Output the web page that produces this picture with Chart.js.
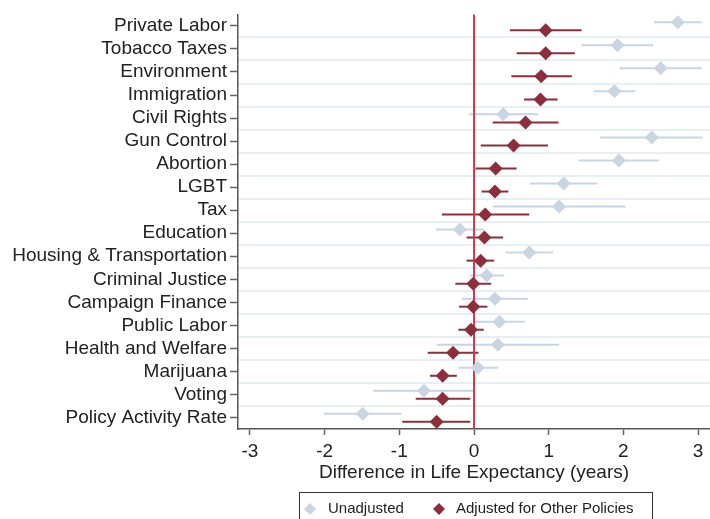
<!DOCTYPE html>
<html lang="en">
<head>
  <meta charset="UTF-8">
  <title>Difference in Life Expectancy by Policy Domain</title>
  <script src="https://cdn.jsdelivr.net/npm/chart.js"></script>
  <style>
    body { margin: 0; background: #fff; }
  </style>
</head>
<body>
<canvas id="grafico" width="710" height="519"></canvas>

<script>
  // Datos
  const categorias = ["Private Labor", "Tobacco Taxes", "Environment", "Immigration", "Civil Rights",
    "Gun Control", "Abortion", "LGBT", "Tax", "Education", "Housing & Transportation",
    "Criminal Justice", "Campaign Finance", "Public Labor", "Health and Welfare", "Marijuana",
    "Voting", "Policy Activity Rate"];

  const sinAjuste = [2.73, 1.92, 2.50, 1.88, 0.39, 2.38, 1.94, 1.20, 1.14, -0.19, 0.74, 0.17, 0.28, 0.34, 0.32, 0.05, -0.67, -1.49];
  const sinAjusteLo = [2.41, 1.44, 1.95, 1.60, -0.07, 1.69, 1.40, 0.75, 0.25, -0.51, 0.42, -0.05, -0.16, 0.00, -0.50, -0.21, -1.35, -2.01];
  const sinAjusteHi = [3.05, 2.40, 3.05, 2.16, 0.86, 3.06, 2.48, 1.65, 2.03, 0.13, 1.06, 0.40, 0.72, 0.68, 1.14, 0.32, 0.00, -0.97];

  const ajustado = [0.96, 0.96, 0.90, 0.89, 0.69, 0.53, 0.29, 0.28, 0.15, 0.14, 0.09, -0.01, -0.01, -0.04, -0.28, -0.42, -0.42, -0.50];
  const ajustadoLo = [0.48, 0.57, 0.50, 0.67, 0.25, 0.09, 0.02, 0.10, -0.43, -0.10, -0.10, -0.25, -0.20, -0.21, -0.62, -0.59, -0.78, -0.96];
  const ajustadoHi = [1.44, 1.35, 1.31, 1.12, 1.13, 0.99, 0.57, 0.46, 0.74, 0.39, 0.27, 0.23, 0.18, 0.13, 0.06, -0.23, -0.05, -0.05];

  const ticksX = [-3, -2, -1, 0, 1, 2, 3];

  const FUENTE = "'Liberation Sans', Arial, sans-serif";
  const COLOR_SIN = "#c9d5e1";
  const COLOR_AJU = "#8c2f3b";
  const COLOR_CERO = "#cd3d4f";

  Chart.defaults.font.family = FUENTE;
  Chart.defaults.color = "#222";

  // desplazamiento vertical de cada serie dentro de su fila
  const desplSin = -0.16;
  const desplAju = 0.19;

  function puntos(valores, despl) {
    return valores.map((v, i) => ({ x: v, y: i + despl }));
  }

  // Barras de error y linea en cero
  const pluginErrores = {
    id: "errores",
    beforeDatasetsDraw(chart) {
      const ctx = chart.ctx;
      const sx = chart.scales.x, sy = chart.scales.y;
      const area = chart.chartArea;
      ctx.save();
      chart.data.datasets.forEach(ds => {
        ctx.strokeStyle = ds.backgroundColor;
        ctx.lineWidth = 2;
        ds.lo.forEach((lo, i) => {
          const y = sy.getPixelForValue(i + ds.despl);
          ctx.beginPath();
          ctx.moveTo(sx.getPixelForValue(lo), y);
          ctx.lineTo(sx.getPixelForValue(ds.hi[i]), y);
          ctx.stroke();
        });
      });
      const x0 = sx.getPixelForValue(0);
      ctx.strokeStyle = COLOR_CERO;
      ctx.lineWidth = 2;
      ctx.beginPath();
      ctx.moveTo(x0, area.top);
      ctx.lineTo(x0, area.bottom);
      ctx.stroke();
      ctx.restore();
    }
  };

  // Leyenda con recuadro
  const pluginLeyenda = {
    id: "leyendaCaja",
    afterDraw(chart) {
      const ctx = chart.ctx;
      ctx.save();
      ctx.strokeStyle = "#333";
      ctx.lineWidth = 1;
      ctx.strokeRect(299.5, 492.5, 353, 40);
      const items = [
        { color: COLOR_SIN, cx: 310, tx: 328, texto: "Unadjusted" },
        { color: COLOR_AJU, cx: 439, tx: 456, texto: "Adjusted for Other Policies" }
      ];
      const cy = 509;
      items.forEach(it => {
        ctx.fillStyle = it.color;
        ctx.beginPath();
        ctx.moveTo(it.cx, cy - 6);
        ctx.lineTo(it.cx + 6, cy);
        ctx.lineTo(it.cx, cy + 6);
        ctx.lineTo(it.cx - 6, cy);
        ctx.closePath();
        ctx.fill();
        ctx.fillStyle = "#222";
        ctx.font = "15px " + FUENTE;
        ctx.textBaseline = "middle";
        ctx.fillText(it.texto, it.tx, cy);
      });
      ctx.restore();
    }
  };

  new Chart(document.getElementById("grafico"), {
    type: "scatter",
    data: {
      datasets: [
        {
          label: "Unadjusted",
          data: puntos(sinAjuste, desplSin),
          lo: sinAjusteLo, hi: sinAjusteHi, despl: desplSin,
          backgroundColor: COLOR_SIN,
          borderWidth: 0,
          pointStyle: "rectRot",
          pointRadius: 7
        },
        {
          label: "Adjusted for Other Policies",
          data: puntos(ajustado, desplAju),
          lo: ajustadoLo, hi: ajustadoHi, despl: desplAju,
          backgroundColor: COLOR_AJU,
          borderWidth: 0,
          pointStyle: "rectRot",
          pointRadius: 7
        }
      ]
    },
    options: {
      responsive: false,
      animation: false,
      devicePixelRatio: 1,
      layout: { autoPadding: false, padding: { top: 13, left: 0, right: 0, bottom: 20 } },
      plugins: {
        legend: { display: false },
        tooltip: { enabled: false }
      },
      scales: {
        x: {
          type: "linear",
          min: -3.16,
          max: 3.16,
          afterBuildTicks: a => { a.ticks = ticksX.map(v => ({ value: v })); },
          afterFit: a => { a.height = 70; },
          ticks: { font: { size: 19 }, color: "#222", padding: 5, callback: v => String(v) },
          grid: { drawOnChartArea: false, tickLength: 6, tickColor: "#666", tickWidth: 1.5 },
          border: { color: "#555", width: 1.5 },
          title: {
            display: true,
            text: "Difference in Life Expectancy (years)",
            font: { size: 19 },
            color: "#222",
            padding: { top: 0, bottom: 15 }
          }
        },
        y: {
          type: "linear",
          position: "left",
          reverse: true,
          min: -0.5,
          max: 17.5,
          afterBuildTicks: a => { a.ticks = categorias.map((c, i) => ({ value: i })); },
          afterFit: a => { a.width = 238; },
          ticks: { font: { size: 19 }, color: "#222", padding: 3, autoSkip: false, callback: v => categorias[v] },
          grid: { drawOnChartArea: false, tickLength: 8, tickColor: "#666", tickWidth: 1.5 },
          border: { color: "#555", width: 1.5 }
        },
        yg: {
          axis: "y",
          type: "linear",
          position: "left",
          reverse: true,
          min: -0.5,
          max: 17.5,
          afterBuildTicks: a => { a.ticks = categorias.slice(1).map((c, i) => ({ value: i + 0.5 })); },
          afterFit: a => { a.width = 0; },
          ticks: { display: false },
          grid: { color: "#e6eff3", lineWidth: 2, drawTicks: false },
          border: { display: false }
        }
      }
    },
    plugins: [pluginErrores, pluginLeyenda]
  });
</script>
</body>
</html>
